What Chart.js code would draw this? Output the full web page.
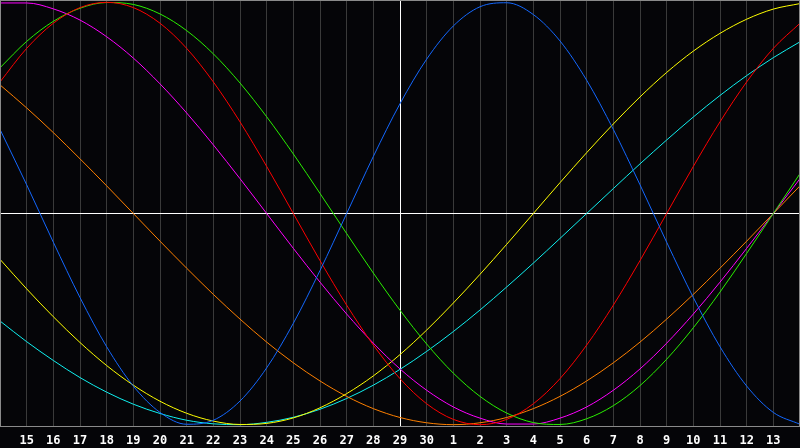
<!DOCTYPE html>
<html lang="en">

<head>
    <meta charset="UTF-8">
    <title>Biorhythm Chart</title>
    <script src="https://cdn.jsdelivr.net/npm/chart.js"></script>
    <style>
        body { margin: 0; background: #050508; }
        canvas { display: block; }
    </style>
</head>

<body>
    <canvas id="bioChart" width="800" height="448"></canvas>

    <script>
        // day labels, first and last are the edges of the window (not printed)
        const days = ['14', '15', '16', '17', '18', '19', '20', '21', '22', '23', '24', '25', '26', '27', '28', '29', '30',
            '1', '2', '3', '4', '5', '6', '7', '8', '9', '10', '11', '12', '13', '14'];

        const blue = [0.398, 0.136, -0.136, -0.398, -0.631, -0.817, -0.942, -0.998, -0.979, -0.888, -0.731, -0.520, -0.270, 0,
            0.270, 0.520, 0.731, 0.888, 0.979, 0.998, 0.942, 0.817, 0.631, 0.398, 0.136, -0.136, -0.398, -0.631, -0.817, -0.942, -0.998];
        const red = [0.623, 0.782, 0.901, 0.975, 1, 0.975, 0.901, 0.782, 0.623, 0.434, 0.223, 0, -0.223, -0.434, -0.623, -0.782,
            -0.901, -0.975, -1, -0.975, -0.901, -0.782, -0.623, -0.434, -0.223, 0, 0.223, 0.434, 0.623, 0.782, 0.901];
        const green = [0.690, 0.815, 0.910, 0.972, 0.999, 0.990, 0.945, 0.866, 0.756, 0.618, 0.458, 0.282, 0.095, -0.095, -0.282,
            -0.458, -0.618, -0.756, -0.866, -0.945, -0.990, -0.999, -0.972, -0.910, -0.815, -0.690, -0.541, -0.372, -0.189, 0, 0.189];
        const magenta = [0.997, 0.997, 0.969, 0.916, 0.837, 0.736, 0.614, 0.476, 0.325, 0.165, 0, -0.165, -0.325, -0.476, -0.614,
            -0.736, -0.837, -0.916, -0.969, -0.997, -0.997, -0.969, -0.916, -0.837, -0.736, -0.614, -0.476, -0.325, -0.165, 0, 0.165];
        const yellow = [-0.217, -0.357, -0.489, -0.611, -0.720, -0.813, -0.889, -0.946, -0.983, -0.999, -0.994, -0.968, -0.920,
            -0.853, -0.769, -0.668, -0.552, -0.424, -0.288, -0.146, 0, 0.146, 0.288, 0.424, 0.552, 0.668, 0.769, 0.853, 0.920, 0.968, 0.994];
        const orange = [0.609, 0.5, 0.383, 0.259, 0.131, 0, -0.131, -0.259, -0.383, -0.5, -0.609, -0.707, -0.793, -0.866, -0.924,
            -0.966, -0.991, -1, -0.991, -0.966, -0.924, -0.866, -0.793, -0.707, -0.609, -0.5, -0.383, -0.259, -0.131, 0, 0.131];
        const cyan = [-0.509, -0.607, -0.696, -0.777, -0.846, -0.903, -0.947, -0.979, -0.996, -1.0, -0.989, -0.965, -0.927, -0.876,
            -0.813, -0.738, -0.653, -0.559, -0.457, -0.348, -0.235, -0.118, 0, 0.118, 0.235, 0.348, 0.457, 0.559, 0.653, 0.738, 0.813];

        const todayIndex = 15; // day 29, white line

        function line(data, color) {
            return {
                data: data,
                borderColor: color,
                borderWidth: 1,
                pointRadius: 0,
                pointHoverRadius: 0,
                fill: false,
                cubicInterpolationMode: 'monotone'
            };
        }

        // frame round the plot area
        const frame = {
            id: 'frame',
            afterDraw(chart) {
                const a = chart.chartArea;
                const c = chart.ctx;
                c.save();
                c.strokeStyle = '#8a8a8a';
                c.lineWidth = 1;
                c.strokeRect(Math.round(a.left) + 0.5, Math.round(a.top) + 0.5,
                    Math.round(a.right) - Math.round(a.left) - 1, Math.round(a.bottom) - Math.round(a.top) - 1);
                c.restore();
            }
        };

        const ctx = document.getElementById('bioChart').getContext('2d');
        new Chart(ctx, {
            type: 'line',
            data: {
                labels: days,
                datasets: [
                    line(blue, '#1468ff'),
                    line(red, '#ff0000'),
                    line(green, '#2af000'),
                    line(magenta, '#ff00ff'),
                    line(yellow, '#ffff00'),
                    line(orange, '#ff8000'),
                    line(cyan, '#10f0f0')
                ]
            },
            options: {
                responsive: false,
                animation: false,
                layout: { autoPadding: false, padding: 0 },
                scales: {
                    x: {
                        offset: false,
                        border: { display: false },
                        grid: {
                            drawTicks: false,
                            color: ctx => ctx.index === todayIndex ? '#ffffff' : '#3a3a3a'
                        },
                        ticks: {
                            autoSkip: false,
                            maxRotation: 0,
                            padding: 7,
                            color: '#ffffff',
                            font: { family: 'DejaVu Sans Mono', size: 12, weight: 'bold' },
                            callback: (v, i) => (i === 0 || i === days.length - 1) ? '' : days[i]
                        },
                        afterFit: s => {
                            s.height = 21;
                            s.paddingLeft = 0;
                            s.paddingRight = 0;
                            s.paddingTop = 0;
                            s.paddingBottom = 0;
                        }
                    },
                    y: {
                        min: -1.011,
                        max: 1.011,
                        border: { display: false },
                        grid: {
                            drawTicks: false,
                            color: ctx => ctx.tick.value === 0 ? '#ffffff' : 'rgba(0,0,0,0)'
                        },
                        ticks: { display: false, stepSize: 1 },
                        afterFit: s => {
                            s.width = 0;
                            s.paddingTop = 0;
                            s.paddingBottom = 0;
                        }
                    }
                },
                plugins: {
                    legend: { display: false },
                    tooltip: { enabled: false }
                }
            },
            plugins: [frame]
        });
    </script>
</body>

</html>
